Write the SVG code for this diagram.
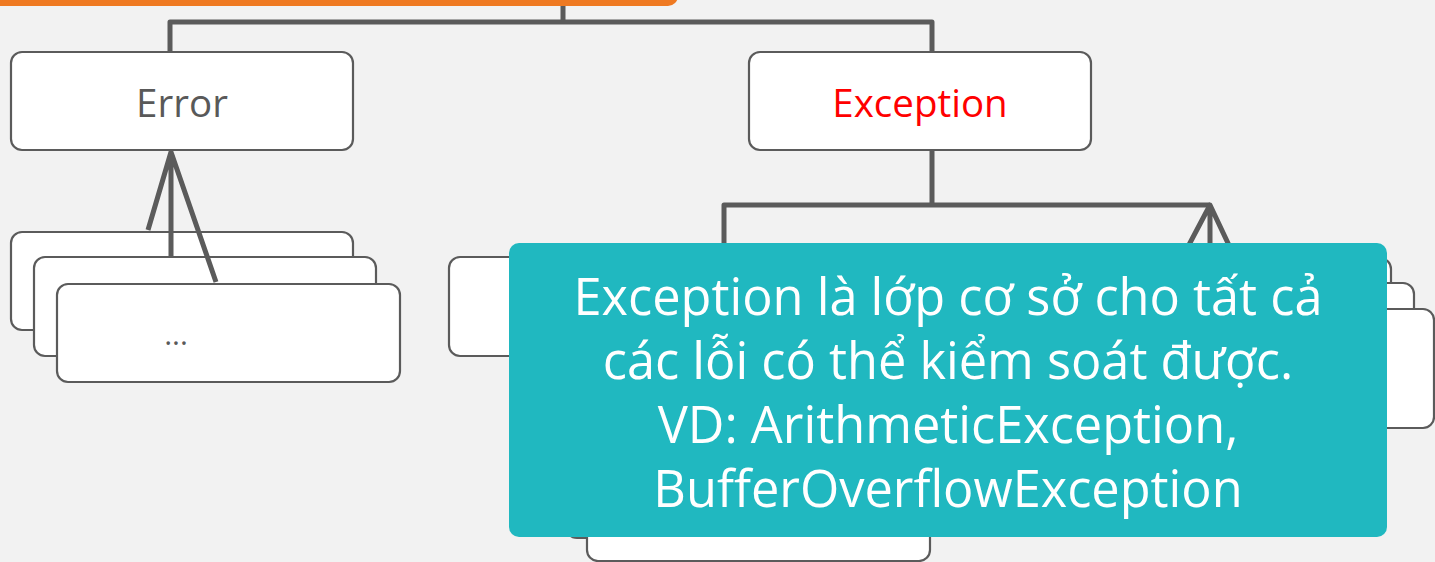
<svg xmlns="http://www.w3.org/2000/svg" width="1435" height="562" viewBox="0 0 1435 562">
<style>
.box{fill:#ffffff;stroke:#5b5b5b;stroke-width:2.2}
.conn{fill:none;stroke:#5b5b5b;stroke-width:5;stroke-linejoin:round}
.lbl{font-family:"Open Sans","Noto Sans",sans-serif;font-size:38.5px;text-anchor:middle}
.note{font-family:"Open Sans","Noto Sans",sans-serif;font-size:50.5px;fill:#ffffff;text-anchor:middle}
</style>
<rect x="0" y="0" width="1435" height="562" fill="#f2f2f2"/>
<rect id="root" x="-20" y="-60" width="698" height="66" rx="10" fill="#ef7a22"/>

<g id="error-children">
<rect class="box" x="11" y="232" width="342" height="98" rx="11"/>
<rect class="box" x="34" y="257" width="342" height="99" rx="11"/>
<rect class="box" x="57" y="284" width="343" height="98" rx="11"/>
<text class="lbl" x="176" y="345" style="font-size:30px" fill="#595959">...</text>
</g>

<g id="exception-children-left">
<rect class="box" x="449" y="257" width="342" height="99" rx="11"/>
<rect class="box" x="566" y="439" width="342" height="99" rx="11"/>
<rect class="box" x="587" y="463" width="343" height="98" rx="11"/>
</g>

<g id="exception-children-right">
<rect class="box" x="1049" y="258" width="342" height="98" rx="11"/>
<rect class="box" x="1072" y="283" width="342" height="99" rx="11"/>
<rect class="box" x="1092" y="309" width="342" height="119" rx="11"/>
</g>

<g id="connectors">
<path class="conn" d="M563,6 V22 M170,52 V22 H932 V52"/>
<path class="conn" d="M932,150 V205 M724,257 V205 H1210"/>
<path class="conn" d="M148,230 L171,152 L216,282 M171,152 V256"/>
<path class="conn" d="M1182,258 L1210,205 L1259,309 M1210,205 V283"/>
</g>

<g id="error">
<rect class="box" x="11" y="52" width="342" height="98" rx="11"/>
<text class="lbl" x="182" y="117" fill="#595959">Error</text>
</g>

<g id="exception">
<rect class="box" x="749" y="52" width="342" height="98" rx="11"/>
<text class="lbl" x="920" y="117" fill="#ff0000">Exception</text>
</g>

<g id="note">
<rect x="509" y="243" width="878" height="294" rx="10" fill="#20b8c0"/>
<text class="note" x="948" y="315">Exception là lớp cơ sở cho tất cả</text>
<text class="note" x="948" y="379">các lỗi có thể kiểm soát được.</text>
<text class="note" x="948" y="443">VD: ArithmeticException,</text>
<text class="note" x="948" y="507">BufferOverflowException</text>
</g>
</svg>
